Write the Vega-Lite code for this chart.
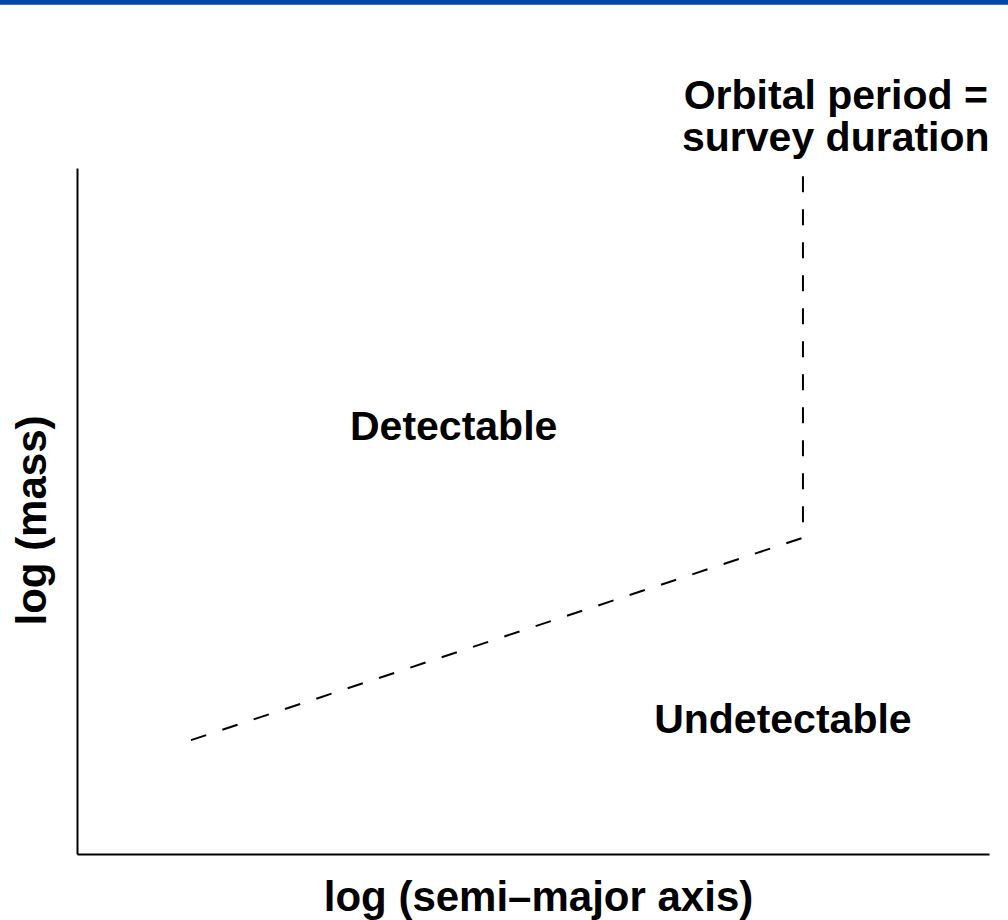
{
  "$schema": "https://vega.github.io/schema/vega-lite/v6.json",
  "width": 912,
  "height": 686,
  "autosize": {"type": "none"},
  "padding": {"left": 77, "top": 168, "right": 19, "bottom": 66},
  "background": "white",
  "config": {"view": {"stroke": null}, "font": "Liberation Sans"},
  "datasets": {
    "banner": [{"x": -8.45, "x2": 102.1, "y": 124.6, "y2": 123.8}],
    "boundary": [
      {"x": 12.5, "y": 16.6, "i": 0},
      {"x": 79.6, "y": 46.1, "i": 1},
      {"x": 79.6, "y": 100, "i": 2}
    ],
    "labels": [
      {"x": 41.3, "y": 60.3, "label": "Detectable"},
      {"x": 77.4, "y": 17.6, "label": "Undetectable"},
      {"x": 83.2, "y": 108.6, "label": "Orbital period =\nsurvey duration"}
    ]
  },
  "encoding": {
    "x": {
      "field": "x",
      "type": "quantitative",
      "scale": {"domain": [0, 100], "nice": false, "zero": false},
      "axis": {
        "title": "log (semi–major axis)",
        "labels": false,
        "ticks": false,
        "grid": false,
        "domainColor": "black",
        "domainWidth": 2,
        "titleFont": "Liberation Sans",
        "titleFontSize": 42,
        "titleFontWeight": "bold",
        "titleColor": "black",
        "titleX": 461,
        "titleY": 56,
        "titleAlign": "center",
        "titleBaseline": "alphabetic"
      }
    },
    "y": {
      "field": "y",
      "type": "quantitative",
      "scale": {"domain": [0, 100], "nice": false, "zero": false},
      "axis": {
        "title": "log (mass)",
        "labels": false,
        "ticks": false,
        "grid": false,
        "domainColor": "black",
        "domainWidth": 2,
        "titleFont": "Liberation Sans",
        "titleFontSize": 42,
        "titleFontWeight": "bold",
        "titleColor": "black",
        "titleAngle": -90,
        "titleX": -32,
        "titleY": 352,
        "titleAlign": "center",
        "titleBaseline": "alphabetic"
      }
    }
  },
  "layer": [
    {
      "data": {"name": "banner"},
      "mark": {"type": "rect", "color": "#0047AB"},
      "encoding": {
        "x2": {"field": "x2"},
        "y2": {"field": "y2"}
      }
    },
    {
      "data": {"name": "boundary"},
      "mark": {"type": "line", "color": "black", "strokeWidth": 2, "strokeDash": [16, 17]},
      "encoding": {
        "order": {"field": "i", "type": "quantitative"}
      }
    },
    {
      "data": {"name": "labels"},
      "mark": {"type": "text", "fontSize": 41, "fontWeight": "bold", "color": "black", "align": "center", "baseline": "alphabetic", "font": "Liberation Sans", "lineBreak": "\n", "lineHeight": 42},
      "encoding": {
        "text": {"field": "label", "type": "nominal"}
      }
    }
  ]
}
